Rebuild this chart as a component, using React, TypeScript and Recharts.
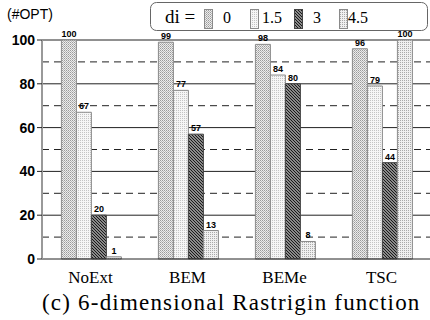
import React from 'react';
import { BarChart, Bar, XAxis, YAxis, CartesianGrid, Legend, LabelList } from 'recharts';

const categories = ['NoExt', 'BEM', 'BEMe', 'TSC'];
const di0 = [100, 99, 98, 96];
const di15 = [67, 77, 84, 79];
const di3 = [20, 57, 80, 44];
const di45 = [1, 13, 8, 100];
const yTicks = [0, 20, 40, 60, 80, 100];
const dashedTicks = [10, 30, 50, 70, 90];

const seriesInfo = [
  { key: 'd0', name: '0', fill: 'url(#pat0)', stroke: '#8a8a8a' },
  { key: 'd15', name: '1.5', fill: 'url(#pat1)', stroke: '#8a8a8a' },
  { key: 'd3', name: '3', fill: 'url(#pat2)', stroke: '#444' },
  { key: 'd45', name: '4.5', fill: 'url(#pat3)', stroke: '#8a8a8a' },
];

const data = categories.map((c, i) => ({
  name: c,
  d0: di0[i],
  d15: di15[i],
  d3: di3[i],
  d45: di45[i],
}));

const serif = 'Liberation Serif, DejaVu Serif, serif';
const sans = 'Liberation Sans, Arial, sans-serif';

const LegendBox = () => (
  <svg width={430} height={34} style={{ position: 'absolute', left: 0, top: 0 }}>
    <rect x={150.5} y={2.5} width={277} height={28} rx={6} fill="#fff" stroke="#666" />
    <text x={165} y={23} fontFamily={serif} fontSize={19} fill="#000">di =</text>
    {seriesInfo.map((s, i) => {
      const xs = [204, 250, 294, 339][i];
      const lx = [223, 262, 313, 348][i];
      return (
        <g key={s.key}>
          <rect x={xs + 0.5} y={9.5} width={8} height={19} fill={s.fill} stroke={s.stroke} />
          <text x={lx} y={23} fontFamily={serif} fontSize={16} fill="#000">{s.name}</text>
        </g>
      );
    })}
  </svg>
);

export default function App() {
  return (
    <div style={{ position: 'absolute', left: 0, top: 0, width: 430, height: 320, background: '#fff' }}>
      <div style={{ position: 'absolute', left: 7, top: 6, fontFamily: sans, fontSize: 14, color: '#000' }}>(#OPT)</div>
      <BarChart
        width={430}
        height={290}
        data={data}
        margin={{ top: 40, right: 0, left: 2, bottom: 1 }}
        barCategoryGap="20%"
        barGap={0}
      >
        <defs>
          <pattern id="pat0" width={2} height={2} patternUnits="userSpaceOnUse">
            <rect width={2} height={2} fill="#ececec" />
            <rect width={1} height={1} fill="#9a9a9a" />
            <rect x={1} y={1} width={1} height={1} fill="#b8b8b8" />
          </pattern>
          <pattern id="pat1" width={2} height={2} patternUnits="userSpaceOnUse">
            <rect width={2} height={2} fill="#f6f6f6" />
            <rect width={1} height={1} fill="#c4c4c4" />
          </pattern>
          <pattern id="pat2" width={3} height={3} patternUnits="userSpaceOnUse">
            <rect width={3} height={3} fill="#8a8a8a" />
            <rect width={1} height={1} fill="#1a1a1a" />
            <rect x={1} y={1} width={1} height={1} fill="#1a1a1a" />
            <rect x={2} y={2} width={1} height={1} fill="#1a1a1a" />
          </pattern>
          <pattern id="pat3" width={2} height={2} patternUnits="userSpaceOnUse">
            <rect width={2} height={2} fill="#f0f0f0" />
            <rect width={1} height={1} fill="#aaaaaa" />
          </pattern>
        </defs>
        <CartesianGrid vertical={false} horizontalValues={[20, 40, 60, 80, 100]} stroke="#222" />
        <CartesianGrid vertical={false} horizontalValues={dashedTicks} stroke="#222" strokeDasharray="7 5" />
        <XAxis
          dataKey="name"
          height={30}
          tickLine={false}
          axisLine={{ stroke: '#222' }}
          tick={{ fontFamily: serif, fontSize: 17, fill: '#000' }}
          tickMargin={6}
        />
        <YAxis
          width={40}
          domain={[0, 100]}
          ticks={yTicks}
          interval={0}
          axisLine={{ stroke: '#999', strokeWidth: 2 }}
          tickLine={{ stroke: '#222' }}
          tickSize={5}
          tick={{ fontFamily: sans, fontSize: 14, fontWeight: 'bold', fill: '#000' }}
        />
        <Legend content={() => <LegendBox />} wrapperStyle={{ position: 'absolute', left: 0, top: 0 }} />
        {seriesInfo.map((s) => (
          <Bar key={s.key} dataKey={s.key} name={s.name} fill={s.fill} stroke={s.stroke} isAnimationActive={false}>
            <LabelList
              dataKey={s.key}
              position="top"
              offset={3}
              style={{ fontFamily: sans, fontSize: 9, fontWeight: 'bold', fill: '#000' }}
            />
          </Bar>
        ))}
      </BarChart>
      <div
        style={{
          position: 'absolute',
          left: 42,
          top: 290,
          whiteSpace: 'nowrap',
          fontFamily: serif,
          fontSize: 23,
          letterSpacing: 1.2,
          color: '#000',
        }}
      >
        (c) 6-dimensional Rastrigin function
      </div>
    </div>
  );
}
